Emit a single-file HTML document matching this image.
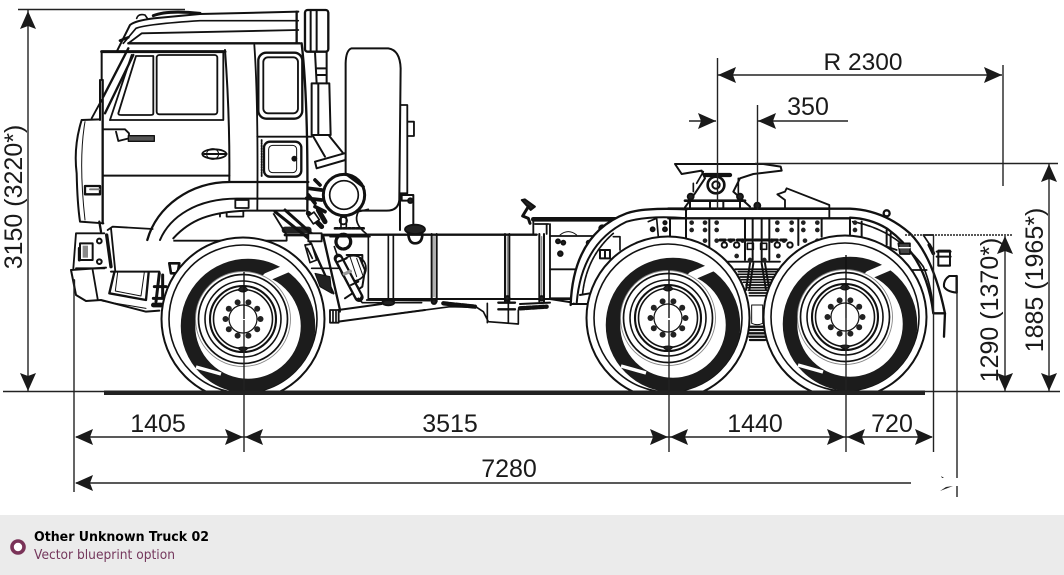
<!DOCTYPE html>
<html><head><meta charset="utf-8"><style>
html,body{margin:0;padding:0;background:#fff}
svg{display:block}
text{font-family:"Liberation Sans",Arial,sans-serif;fill:#1a1a1a}
</style></head><body>
<svg width="1064" height="575" viewBox="0 0 1064 575" xmlns="http://www.w3.org/2000/svg">
<defs>
<polygon id="ar" points="0,0 -18,-8 -15,0 -18,8" fill="#1a1a1a"/>
<clipPath id="tc"><circle r="74"/></clipPath>
<g id="wheel">
<circle r="81.5" fill="#fff" stroke="#111" stroke-width="2"/>
<circle r="74" fill="#fff" stroke="#111" stroke-width="1.6"/>
<g clip-path="url(#tc)"><circle cx="5" cy="7" r="60" fill="none" stroke="#1c1c1c" stroke-width="14.5"/></g>
<path d="M24,-42L45,-51" stroke="#fff" stroke-width="8.5" stroke-linecap="round"/>
<path d="M-47,48L-22,55" stroke="#fff" stroke-width="3.5"/>
<circle r="47.5" fill="#fff" stroke="#888" stroke-width=".9"/>
<circle r="44.5" fill="none" stroke="#111" stroke-width="1.7"/>
<circle r="38" fill="none" stroke="#111" stroke-width="1.6"/>
<circle r="33" fill="none" stroke="#111" stroke-width="2.1"/>
<circle r="29.5" fill="none" stroke="#111" stroke-width="1.6"/>
<circle r="14" fill="#fff" stroke="#111" stroke-width="1.2"/>
<path d="M-5,-29Q0,-36 5,-29Q0,-25-5,-29M-5,29Q0,35 5,29Q0,27-5,29" fill="#222" stroke="#111"/>
<g fill="#222"><circle cx="17.5" r="3"/><circle cx="14.2" cy="10.3" r="3"/><circle cx="5.4" cy="16.6" r="3"/><circle cx="-5.4" cy="16.6" r="3"/><circle cx="-14.2" cy="10.3" r="3"/><circle cx="-17.5" r="3"/><circle cx="-14.2" cy="-10.3" r="3"/><circle cx="-5.4" cy="-16.6" r="3"/><circle cx="5.4" cy="-16.6" r="3"/><circle cx="14.2" cy="-10.3" r="3"/></g>
</g>
</defs>
<rect width="1064" height="575" fill="#fff"/>

<!-- CAB -->
<g transform="translate(60 0) scale(.3333)" fill="none" stroke="#111" stroke-width="5.5" stroke-linejoin="round" stroke-linecap="round">
<path d="M170,155L210,75Q225,62 280,55L420,42L715,35" stroke-width="6"/>
<path d="M190,130L228,85Q260,72 420,62L715,62" stroke-width="5"/>
<path d="M205,130L245,100L715,90"/>
<path d="M205,130H720" stroke-width="7"/>
<path d="M180,122L205,112" stroke-width="8"/>
<path d="M230,55Q235,40 255,45L262,55" stroke-width="5"/>
<path d="M280,47Q320,30 420,40" stroke-width="9"/>
<path d="M710,35V128" stroke-width="7"/>
<!-- snorkel -->
<rect x="735" y="30" width="70" height="125" rx="8" fill="#fff" stroke-width="7"/>
<path d="M752,30V155M770,30V155" stroke-width="6"/>
<path d="M765,155L770,250M800,155V250M770,205H800M770,225H800" stroke-width="6"/>
<path d="M755,250H808L812,405H755ZM775,250V405" stroke-width="6"/>
<path d="M760,410L795,470M808,408L850,460" stroke-width="6"/>
<path d="M765,485L860,458L856,480L770,505Z" fill="#fff" stroke-width="6"/>
<!-- door frame -->
<path d="M125,155H495" stroke-width="9"/>
<path d="M125,155V240M120,240V360" stroke-width="6"/>
<path d="M495,150Q510,350 508,545" stroke-width="6"/>
<path d="M150,360H490V160"/>
<path d="M150,360L215,165"/>
<path d="M205,145L130,290M220,165L135,340" stroke-width="7"/>
<path d="M125,300L95,355"/>
<path d="M175,340L228,168H280V340Q280,345 270,345H185Q175,345 175,340Z"/>
<rect x="290" y="165" width="182" height="178" rx="8"/>
<path d="M130,527H508" stroke-width="6"/>
<!-- rear cab -->
<path d="M583,135Q595,300 592,630"/>
<path d="M725,130Q745,300 742,640" stroke-width="7"/>
<rect x="595" y="158" width="132" height="198" rx="24" stroke-width="7"/>
<rect x="610" y="172" width="104" height="168" rx="14"/>
<path d="M592,410H755"/>
<rect x="612" y="425" width="112" height="105" rx="18" stroke-width="7"/>
<rect x="626" y="436" width="84" height="82" rx="12" stroke-width="3"/>
<circle cx="703" cy="476" r="6" fill="#111"/>
<path d="M605,420V530" stroke-dasharray="4 4"/>
<!-- front mask -->
<path d="M65,360L120,358M65,360Q40,440 50,520Q52,610 60,665L130,670" stroke-width="6"/>
<path d="M75,365Q55,480 75,660" stroke-width="3"/>
<path d="M128,240V670" stroke-width="7"/>
<rect x="75" y="558" width="45" height="25" fill="#fff" stroke-width="7"/>
<path d="M90,568H118" stroke="#777"/>
<!-- handle and latch -->
<path d="M130,388H195L207,400V415L175,423L168,395"/>
<rect x="205" y="407" width="78" height="17" fill="#555" stroke-width="4"/>
<ellipse cx="463" cy="462" rx="36" ry="14"/>
<path d="M432,462H500" stroke-width="6"/>
<ellipse cx="458" cy="462" rx="18" ry="16" stroke-width="3"/>
<!-- arch -->
<path d="M262,720C290,620 390,546 510,546H745" stroke-width="7"/>
<path d="M300,720C330,650 410,596 530,596H740" stroke-width="6"/>
<path d="M340,715C390,660 450,636 560,632H735" stroke-width="6"/>
<rect x="526" y="600" width="40" height="24" fill="#fff"/>
<path d="M500,640V650H550V635M480,640V650"/>
<!-- spare tyre -->
<path d="M875,145H985Q1020,150 1022,205L1018,600Q1015,632 980,632H900Q860,632 857,590L857,190Q858,150 875,145Z" fill="#fff" stroke-width="6"/>
<path d="M1022,315H1042V580H1020M1042,365H1062V408H1042"/>
</g>

<!-- ENGINE AREA -->
<g transform="translate(275 130) scale(.3333)" fill="none" stroke="#111" stroke-width="5.5" stroke-linejoin="round" stroke-linecap="round">
<!-- spare tyre bracket -->
<path d="M375,195H415V305M375,195V300M380,195V212H395" stroke-width="6"/>
<circle cx="406" cy="212" r="7" fill="#222"/>
<ellipse cx="420" cy="298" rx="30" ry="14" fill="#222"/>
<path d="M400,312Q402,340 420,340Q442,340 442,312" stroke-width="8"/>
<path d="M280,238L250,245Q232,280 275,312" stroke-width="5"/>
<!-- rear cross-members dark -->
<path d="M30,315H280" stroke-width="8"/>
<path d="M180,295H270" stroke-width="8" stroke-dasharray="8 5"/>
<path d="M30,300H100" stroke-width="20" stroke="#222" stroke-dasharray="12 3"/>
<path d="M0,245L100,325M30,240L120,320" stroke-width="9"/>
<!-- teeth left of filter -->
<path d="M120,150L135,165M100,175L140,180M95,205L140,210M100,195L120,220M120,230L150,245" stroke-width="11"/>
<path d="M100,250L140,290M130,240L150,275" stroke-width="15"/>
<rect x="105" y="250" width="22" height="28" fill="#fff" stroke-width="5" transform="rotate(-35 116 264)"/>
<!-- filter -->
<path d="M145,195A62,62 0 1 1 269,195A62,62 0 1 1 145,195Z" fill="#fff" stroke-width="9"/>
<circle cx="207" cy="195" r="43" stroke-width="5"/>
<path d="M215,133L265,170" stroke-width="9"/>
<path d="M198,258V290M214,258V290" stroke-width="5"/>
<circle cx="205" cy="272" r="11"/>
<!-- under engine -->
<rect x="100" y="310" width="40" height="24" fill="#fff"/>
<path d="M105,335L175,490M145,320L195,540" stroke-width="7"/>
<path d="M90,345L110,342L125,390L105,398Z" fill="#fff" stroke-width="5"/>
<path d="M97,355L112,385" stroke-width="5"/>
<path d="M110,415H190" stroke-width="5"/>
<path d="M120,430L165,440L170,490L135,470Z" fill="#222" stroke-width="3"/>
<circle cx="205" cy="335" r="22" stroke-width="10" stroke-dasharray="8 5"/>
<path d="M165,320H285M178,350L195,400" stroke-width="5"/>
<circle cx="235" cy="415" r="38" stroke-width="5"/>
<path d="M215,375H262V395M255,385L270,420L262,470L210,505" stroke-width="6"/>
<path d="M225,380L245,440M245,385L265,440M215,445L250,470" stroke-width="3"/>
<path d="M190,385L252,502" stroke-width="28"/>
<path d="M192,388L250,498" stroke="#fff" stroke-width="14"/>
<path d="M208,432L226,424" stroke="#999" stroke-width="10"/>
<path d="M190,395L215,385M228,465L250,455" stroke-width="6"/>
<path d="M250,505L262,518H440" stroke-width="5"/>
<!-- axle tie -->
<path d="M165,545H195M190,540L320,522M190,575L450,540" stroke-width="6"/>
<rect x="165" y="540" width="26" height="38" fill="#fff"/>
<path d="M174,542V576M183,542V576" stroke-width="5"/>
<ellipse cx="340" cy="518" rx="18" ry="8" fill="#222"/>
</g>

<!-- FRONT -->
<g transform="translate(66 215) scale(.3333)" fill="none" stroke="#111" stroke-width="5.5" stroke-linejoin="round" stroke-linecap="round">
<path d="M30,55H115M30,55L22,160M30,160H115"/>
<path d="M100,20L105,50" stroke-width="7"/>
<path d="M122,60L135,155" stroke-width="10"/>
<path d="M15,165L120,158M15,165L30,240L60,258L105,255L240,290L280,287" stroke-width="6"/>
<path d="M108,258L240,280" stroke-width="3"/>
<path d="M80,165L95,252"/>
<path d="M25,195V225" stroke-width="5"/>
<path d="M125,45L140,35L260,42M135,40L148,170"/>
<path d="M135,170H280" stroke-width="6"/>
<path d="M145,172L130,235L240,255L248,172" stroke-width="7"/>
<path d="M155,172L148,228L225,243L235,172" stroke-width="3"/>
<rect x="42" y="85" width="38" height="50" stroke-width="6"/>
<rect x="50" y="92" width="16" height="36" fill="#888" stroke="none"/>
<path d="M40,100V135" stroke-width="9"/>
<circle cx="100" cy="78" r="7" stroke-width="6"/><circle cx="100" cy="140" r="7" stroke-width="6"/>
<path d="M310,145H340L335,175H315Z" stroke-width="8"/>
<path d="M280,175L270,260M290,180V250M265,215H300M262,250H290" stroke-width="9"/>
<path d="M262,270H285" stroke-width="14"/>
</g>

<!-- MUDGUARD -->
<g transform="translate(60 200) scale(.3333)" fill="none" stroke="#111" stroke-width="5.5" stroke-linejoin="round">
<path d="M340,122H680V105L640,40"/>
</g>

<!-- TANK AND REAR CHASSIS LEFT -->
<g transform="translate(400 150) scale(.3333)" fill="none" stroke="#111" stroke-width="5.5" stroke-linejoin="round" stroke-linecap="round">
<path d="M-100,254H410" stroke-width="7"/>
<path d="M-95,254V447M-35,254V447M-20,254V447" stroke-width="5"/>
<path d="M-95,447H510" stroke-width="6"/>
<path d="M95,252V455M110,252V455M315,252V455M328,252V455M418,252V455M432,252V455" stroke-width="6"/>
<path d="M102,260V440M322,260V440M425,260V440" stroke="#888" stroke-width="4"/>
<circle cx="102" cy="455" r="7" fill="#222"/><circle cx="322" cy="445" r="7" fill="#222"/><circle cx="425" cy="445" r="7" fill="#222"/>
<path d="M-100,450L90,452M0,490L150,470L230,472L250,485L265,515L355,522V480M325,450V520M262,460V518" stroke-width="5"/>
<path d="M295,458H345M295,478H345" stroke-width="7"/>
<path d="M130,460L225,470" stroke-width="13" stroke-dasharray="14 5"/>
<path d="M360,475L440,470" stroke-width="13" stroke-dasharray="14 5"/>
<path d="M450,447L520,458M360,462L450,458" stroke-width="6"/>
<path d="M375,148L405,170L392,180L365,150Z" fill="#222"/>
<path d="M385,170L368,198L385,205L390,220" stroke-width="9"/>
<path d="M400,208H800" stroke-width="14"/>
<path d="M400,215V252M440,222V252M450,222V447M405,222H445"/>
<path d="M450,258H580M450,358H560M450,445H530"/>
<circle cx="474" cy="274" r="6" fill="#222"/><circle cx="490" cy="278" r="6" fill="#222"/><circle cx="481" cy="311" r="7" fill="#222"/>
<path d="M480,255Q505,235 530,255" stroke-width="3"/>
<circle cx="566" cy="278" r="6" fill="#222"/><circle cx="607" cy="235" r="8" stroke-width="8"/>
<!-- mid fender -->
<path d="M512,465Q520,250 680,190Q730,172 860,178" stroke-width="7" fill="#fff"/>
<path d="M530,460Q545,280 680,215Q750,195 860,205" stroke-width="6"/>
<path d="M548,430Q560,320 640,250" stroke-width="5" stroke-dasharray="12 3"/>
<path d="M600,325V300H630V325ZM615,300V325" stroke-width="6"/>
<path d="M640,260H660V300M745,215L770,205L775,260" stroke-width="5"/>
<circle cx="758" cy="238" r="6" fill="#222"/><circle cx="795" cy="218" r="5" fill="#222"/><circle cx="795" cy="238" r="6" fill="#222"/>
<path d="M515,462H570M540,435L570,430" stroke-width="6"/>
</g>

<!-- REAR CHASSIS -->
<g transform="translate(670 150) scale(.3333)" fill="none" stroke="#111" stroke-width="5.5" stroke-linejoin="round" stroke-linecap="round">
<path d="M15,42H280L332,50L335,62L250,72L210,85L190,125L240,170M15,42L35,72L95,62L105,85L75,130L45,172" fill="#fff" stroke-width="6"/>
<path d="M105,75H180" stroke-width="13"/>
<path d="M100,65L80,100M70,100V125M205,85V130" stroke-width="5"/>
<circle cx="138" cy="105" r="25" fill="#fff" stroke-width="8"/><circle cx="138" cy="105" r="11" stroke-width="6"/>
<path d="M45,152H225" stroke-width="8"/>
<path d="M60,135V175M120,152V175M160,152V175M210,135V175" stroke-width="6"/>
<circle cx="62" cy="140" r="9" fill="#222"/><circle cx="210" cy="140" r="9" fill="#222"/>
<circle cx="262" cy="167" r="9" fill="#222"/>
<path d="M322,133L345,125L350,115L478,165V205M322,133L345,150V175" fill="#fff"/>
<path d="M-5,176H478" stroke-width="8"/>
<path d="M-5,205H540" stroke-width="7"/>
<path d="M478,176H540Q640,180 720,250Q790,320 825,490H790Q770,320 650,235Q600,205 540,203" fill="#fff" stroke-width="7"/>
<path d="M548,215Q680,240 760,350Q785,410 790,480" stroke-width="5" stroke-dasharray="12 2"/>
<path d="M825,490L822,560" stroke-width="7"/>
<path d="M790,255H760L790,300" stroke-width="5"/>
<circle cx="650" cy="190" r="9" stroke-width="7"/>
<path d="M0,205V260M48,180V270M118,205V320M225,205V330M248,205V330M275,205V330M298,205V330M455,205V260M385,205V285M540,205V260M575,215V265M650,240V285M662,250V300" stroke-width="6"/>
<path d="M100,335H330M195,358H340M580,265L680,300M700,360H770"/>
<path d="M685,280H720V312H690Z" fill="#444" stroke-width="5"/>
<path d="M688,293H720" stroke="#fff" stroke-width="4"/>
<path d="M778,285L790,310" stroke-width="11"/>
<rect x="805" y="302" width="35" height="45" fill="#fff" stroke-width="6"/>
<path d="M800,305H842M800,320H842M805,347H840" stroke-width="6"/>
<path d="M860,378H838Q820,390 822,410Q830,425 860,428Z" fill="#fff" stroke-width="6"/>
<path d="M860,378V428" stroke-width="7"/>
<g fill="#222" stroke="none">
<circle cx="65" cy="218" r="7"/><circle cx="105" cy="218" r="7"/><circle cx="140" cy="218" r="7"/><circle cx="65" cy="240" r="7"/><circle cx="105" cy="240" r="7"/><circle cx="140" cy="240" r="7"/>
<circle cx="105" cy="272" r="7"/><circle cx="140" cy="272" r="7"/><circle cx="182" cy="272" r="7"/><circle cx="218" cy="272" r="7"/><circle cx="305" cy="272" r="7"/><circle cx="342" cy="272" r="7"/>
<circle cx="322" cy="218" r="7"/><circle cx="365" cy="218" r="7"/><circle cx="400" cy="218" r="7"/><circle cx="442" cy="218" r="7"/><circle cx="322" cy="240" r="7"/><circle cx="365" cy="240" r="7"/><circle cx="400" cy="240" r="7"/><circle cx="442" cy="240" r="7"/>
<circle cx="405" cy="272" r="7"/><circle cx="442" cy="272" r="7"/><circle cx="200" cy="318" r="7"/><circle cx="325" cy="318" r="7"/><circle cx="240" cy="330" r="7"/><circle cx="283" cy="330" r="7"/><circle cx="555" cy="218" r="7"/><circle cx="555" cy="240" r="7"/>
</g>
<g stroke-width="6"><circle cx="163" cy="285" r="8"/><circle cx="200" cy="285" r="8"/><circle cx="322" cy="285" r="8"/><circle cx="360" cy="285" r="8"/></g>
<path d="M150,270H355" stroke-width="9" stroke-dasharray="16 10"/>
<rect x="232" y="280" width="18" height="18" stroke-width="5"/><rect x="272" y="280" width="18" height="18" stroke-width="5"/>
<!-- spring -->
<path d="M240,340L228,420M285,340L298,420M250,340L238,420M275,340L288,420" stroke-width="6"/>
<path d="M205,365H325M205,373H325M210,381H320M215,389H315M220,397H305M228,405H300M232,413H296M235,421H295M238,429H290M238,437H290" stroke-width="5"/>
<path d="M245,465H278V520Q262,528 245,520Z" stroke-width="3"/>
<path d="M240,530H285M238,540H288M238,550H288M238,560H288M240,570H285" stroke-width="7"/>
</g>

<!-- WHEELS -->
<use href="#wheel" transform="translate(243 319)"/>
<use href="#wheel" transform="translate(668 318)"/>
<use href="#wheel" transform="translate(845 317)"/>
<path d="M244,272V319M669,270V318M846,255V318" stroke="#111" stroke-width="1.4"/>

<!-- below ground mask -->
<rect x="0" y="392" width="1064" height="123" fill="#fff"/>
<rect x="104" y="390.5" width="821" height="4.5" fill="#222"/>

<!-- DIMENSION LINES -->
<g stroke="#222" stroke-width="1.4" fill="none">
<path d="M3,391.5H1060"/>
<path d="M18,9.5H185"/>
<path d="M28,10V391"/>
<path d="M74,280V492"/>
<path d="M244,320V452M669,320V452M846,318V452"/>
<path d="M933.5,235V452M957,280V478M957,486V497"/>
<path d="M717.5,58V210M757.5,105V210M1003,65V186"/>
<path d="M718,75H1002M689,121H716M758,121H848"/>
<path d="M755,163.5H1058"/>
<path d="M905,235H1012" stroke-dasharray="2 1"/>
<path d="M1005,236V391M1049,164V391"/>
<path d="M76,437H932"/>
<path d="M76,483H911"/>
</g>
<g>
<use href="#ar" transform="translate(28 11) rotate(-90)"/>
<use href="#ar" transform="translate(28 391) rotate(90)"/>
<use href="#ar" transform="translate(1005 236) rotate(-90)"/>
<use href="#ar" transform="translate(1005 391) rotate(90)"/>
<use href="#ar" transform="translate(1049 164) rotate(-90)"/>
<use href="#ar" transform="translate(1049 391) rotate(90)"/>
<use href="#ar" transform="translate(718 75) rotate(180)"/>
<use href="#ar" transform="translate(1002 75)"/>
<use href="#ar" transform="translate(716 121)"/>
<use href="#ar" transform="translate(758 121) rotate(180)"/>
<use href="#ar" transform="translate(75 437) rotate(180)"/>
<use href="#ar" transform="translate(243 437)"/>
<use href="#ar" transform="translate(245 437) rotate(180)"/>
<use href="#ar" transform="translate(668 437)"/>
<use href="#ar" transform="translate(670 437) rotate(180)"/>
<use href="#ar" transform="translate(845 437)"/>
<use href="#ar" transform="translate(847 437) rotate(180)"/>
<use href="#ar" transform="translate(933 437)"/>
<use href="#ar" transform="translate(75 483) rotate(180)"/>
<polygon points="940,491 953,486 946,487" fill="#222"/>
<polygon points="941,476 944,478 942,478" fill="#222"/>
</g>

<!-- LABELS -->
<g font-size="25" text-anchor="middle">
<text x="158" y="432">1405</text>
<text x="450" y="432">3515</text>
<text x="755" y="432">1440</text>
<text x="892" y="432">720</text>
<text x="509" y="477">7280</text>
<text x="863" y="70" font-size="24.5">R 2300</text>
<text x="808" y="115">350</text>
<text transform="translate(22 197) rotate(-90)">3150 (3220*)</text>
<text transform="translate(998 310) rotate(-90)">1290 (1370*)</text>
<text transform="translate(1043 280) rotate(-90)">1885 (1965*)</text>
</g>

<!-- FOOTER -->
<rect x="0" y="515" width="1064" height="60" fill="#ebebeb"/>
<circle cx="18" cy="547" r="6" fill="#fff" stroke="#7a3358" stroke-width="3.6"/>
<text x="34" y="541" style="font-family:'DejaVu Sans',sans-serif;font-weight:bold;fill:#000" font-size="13" textLength="175" lengthAdjust="spacingAndGlyphs">Other Unknown Truck 02</text>
<text x="34" y="559" style="font-family:'DejaVu Sans',sans-serif;fill:#74375c" font-size="13" textLength="141" lengthAdjust="spacingAndGlyphs">Vector blueprint option</text>
</svg>
</body></html>
